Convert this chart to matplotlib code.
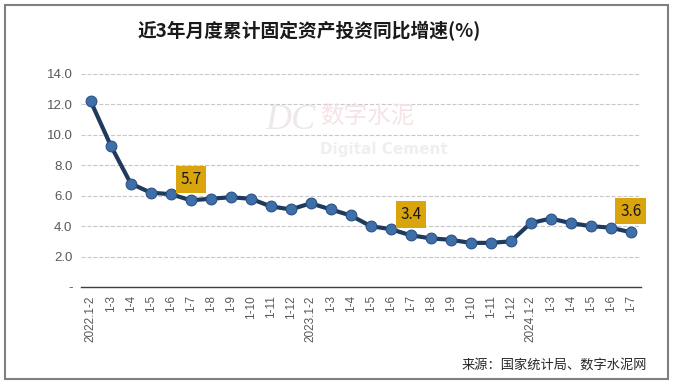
import matplotlib.pyplot as plt
from matplotlib.patches import Rectangle

plt.rcParams['font.family'] = ['Noto Sans CJK SC', 'DejaVu Sans']

# 月份标签和增速数据
labels = ['2022.1-2', '1-3', '1-4', '1-5', '1-6', '1-7', '1-8', '1-9', '1-10', '1-11', '1-12',
          '2023.1-2', '1-3', '1-4', '1-5', '1-6', '1-7', '1-8', '1-9', '1-10', '1-11', '1-12',
          '2024.1-2', '1-3', '1-4', '1-5', '1-6', '1-7']
values = [12.2, 9.3, 6.8, 6.2, 6.1, 5.7, 5.8, 5.9, 5.8, 5.3, 5.1,
          5.5, 5.1, 4.7, 4.0, 3.8, 3.4, 3.2, 3.1, 2.9, 2.9, 3.0,
          4.2, 4.5, 4.2, 4.0, 3.9, 3.6]
highlight = [5, 16, 27]  # 标注的点

fig = plt.figure(figsize=(6.73, 3.84), dpi=100)
fig.patches.append(Rectangle((0.008, 0.013), 0.984, 0.975, transform=fig.transFigure,
                             fill=False, edgecolor='#808080', linewidth=1.5))

ax = fig.add_axes([0.120, 0.2526, 0.832, 0.5547])
x = list(range(len(values)))

ax.plot(x, values, color='#1f3a5c', linewidth=3, zorder=3)
ax.scatter(x, values, s=60, color='#3f6fa8', edgecolors='#2a5285', linewidths=0.8, zorder=4)

for i in highlight:
    ax.annotate(f'{values[i]:.1f}', (x[i], values[i]), xytext=(0, 15), textcoords='offset points',
                ha='center', va='center', fontsize=11, color='#1a1a1a',
                bbox=dict(boxstyle='square,pad=0.3', facecolor='#d9a40c', edgecolor='none'),
                zorder=5)

ax.set_xlim(-0.5, len(values) - 0.5)
ax.set_ylim(0, 14)
ax.set_yticks([0, 2, 4, 6, 8, 10, 12, 14])
ax.set_yticklabels(['-', '2.0', '4.0', '6.0', '8.0', '10.0', '12.0', '14.0'],
                   fontsize=9.5, color='#595959', family='Liberation Sans')
ax.set_xticks(x)
ax.set_xticklabels(labels, rotation=90, fontsize=8.5, color='#595959', family='Liberation Sans')
ax.tick_params(length=0, pad=6)
ax.grid(axis='y', color='#c8c8c8', linestyle='--', linewidth=0.8)
ax.set_axisbelow(True)
for s in ['top', 'right', 'left']:
    ax.spines[s].set_visible(False)
ax.spines['bottom'].set_color('#404040')
ax.spines['bottom'].set_linewidth(1)

# 水印
fig.text(0.395, 0.665, 'DC', fontsize=26, color='#efe8e8', family='Liberation Serif',
         style='italic', zorder=0)
fig.text(0.475, 0.68, '数字水泥', fontsize=17, color='#f5e4e6', zorder=0)
fig.text(0.475, 0.6, 'Digital Cement', fontsize=11, color='#f0eeee', family='DejaVu Sans',
         fontweight='bold', zorder=0)

fig.text(0.46, 0.92, '近3年月度累计固定资产投资同比增速(%)', ha='center', va='center',
         fontsize=13.5, fontweight='bold', color='#1a1a1a')
fig.text(0.962, 0.05, '来源：国家统计局、数字水泥网', ha='right', va='center',
         fontsize=9.5, color='#262626')

fig.savefig('out.png', dpi=100)
